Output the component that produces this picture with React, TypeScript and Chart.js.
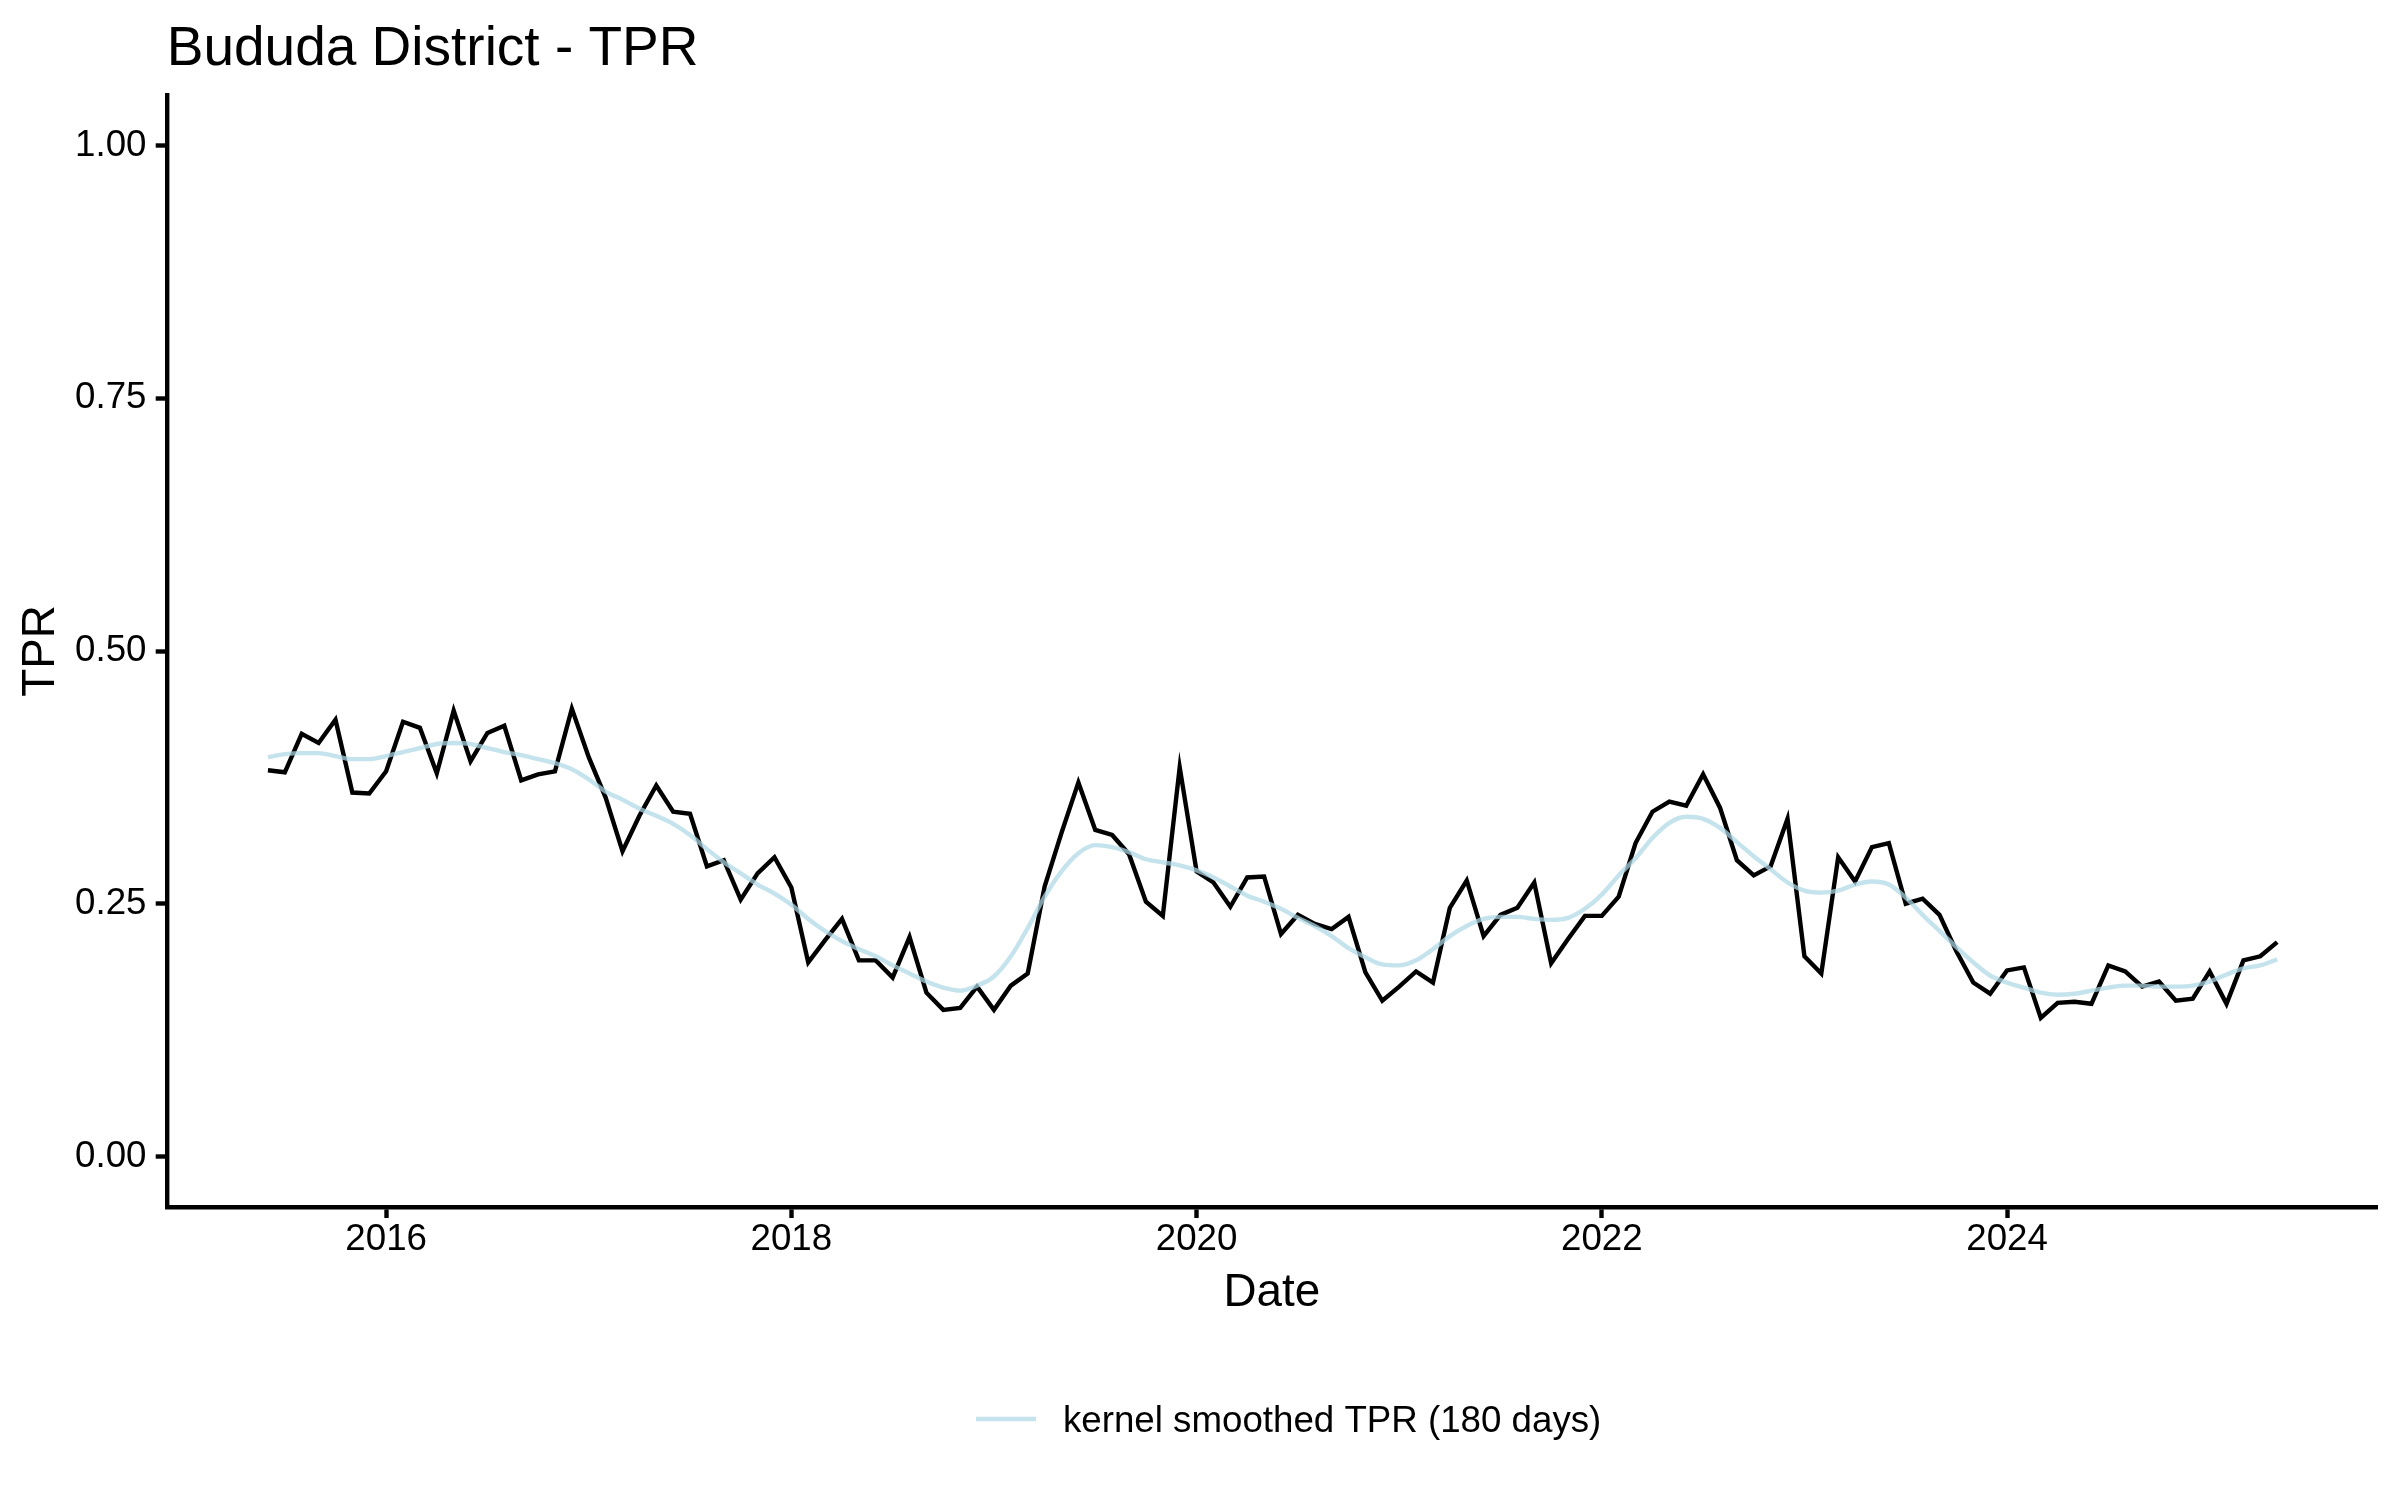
import React, { useEffect, useRef } from 'react';
import { Chart, registerables } from 'chart.js';

Chart.register(...registerables);

// ---- data -------------------------------------------------------------
const START_YEAR = 2015;
const START_MONTH = 6; // June 2015, monthly observations

const tpr = [
  0.382, 0.380, 0.418, 0.409, 0.432, 0.360, 0.359, 0.381, 0.430, 0.424,
  0.379, 0.441, 0.391, 0.419, 0.426, 0.372, 0.378, 0.381, 0.443, 0.395,
  0.355, 0.302, 0.337, 0.367, 0.341, 0.339, 0.287, 0.293, 0.254, 0.280,
  0.296, 0.266, 0.192, 0.214, 0.235, 0.194, 0.194, 0.177, 0.217, 0.162,
  0.145, 0.147, 0.168, 0.145, 0.169, 0.181, 0.267, 0.320, 0.370, 0.323,
  0.318, 0.299, 0.252, 0.238, 0.385, 0.282, 0.271, 0.247, 0.276, 0.277,
  0.220, 0.239, 0.230, 0.225, 0.237, 0.182, 0.154, 0.168, 0.183, 0.172,
  0.246, 0.273, 0.218, 0.239, 0.246, 0.271, 0.191, 0.215, 0.238, 0.238,
  0.257, 0.310, 0.341, 0.351, 0.347, 0.378, 0.345, 0.293, 0.278, 0.287,
  0.334, 0.198, 0.181, 0.296, 0.272, 0.306, 0.310, 0.250, 0.255, 0.239,
  0.203, 0.172, 0.161, 0.184, 0.187, 0.137, 0.152, 0.153, 0.151, 0.189,
  0.183, 0.168, 0.173, 0.154, 0.156, 0.183, 0.151, 0.194, 0.198, 0.212,
];

const smoothed = [
  0.395, 0.398, 0.399, 0.399, 0.396, 0.393, 0.393, 0.396, 0.400, 0.404,
  0.408, 0.409, 0.408, 0.404, 0.400, 0.397, 0.393, 0.389, 0.383, 0.373,
  0.361, 0.353, 0.344, 0.337, 0.329, 0.318, 0.304, 0.291, 0.280, 0.269,
  0.260, 0.249, 0.235, 0.223, 0.213, 0.205, 0.198, 0.189, 0.181, 0.173,
  0.167, 0.164, 0.169, 0.178, 0.198, 0.226, 0.257, 0.282, 0.300, 0.308,
  0.306, 0.301, 0.294, 0.291, 0.288, 0.283, 0.276, 0.267, 0.258, 0.252,
  0.245, 0.236, 0.228, 0.218, 0.206, 0.197, 0.190, 0.189, 0.194, 0.205,
  0.218, 0.228, 0.235, 0.237, 0.237, 0.235, 0.234, 0.236, 0.245, 0.259,
  0.278, 0.295, 0.315, 0.330, 0.336, 0.334, 0.325, 0.311, 0.297, 0.284,
  0.271, 0.263, 0.261, 0.263, 0.269, 0.272, 0.269, 0.256, 0.239, 0.223,
  0.207, 0.192, 0.179, 0.172, 0.167, 0.162, 0.160, 0.161, 0.164, 0.167,
  0.169, 0.169, 0.168, 0.168, 0.169, 0.173, 0.180, 0.186, 0.189, 0.195,
];

const months = tpr.map((_, i) => {
  const m = START_MONTH - 1 + i;
  return `${START_YEAR + Math.floor(m / 12)}-${String((m % 12) + 1).padStart(2, '0')}`;
});

const xTicks = [2016, 2018, 2020, 2022, 2024];
const yTicks = [0, 0.25, 0.5, 0.75, 1.0];

const TITLE = 'Bududa District - TPR';
const X_TITLE = 'Date';
const Y_TITLE = 'TPR';
const LEGEND_LABEL = 'kernel smoothed TPR (180 days)';

// ---- styles -----------------------------------------------------------
const FONT = '"Liberation Sans", Arial, Helvetica, sans-serif';
const SMOOTH_COLOR = 'rgba(173, 216, 230, 0.72)';
const LINE_W = 4.4;

const toYear = (label: string) => {
  const [y, m] = label.split('-').map(Number);
  return y + (m - 1) / 12;
};

const textPlugin = {
  id: 'textPlugin',
  afterDraw(chart: any) {
    const ctx = chart.ctx as CanvasRenderingContext2D;
    const area = chart.chartArea;
    ctx.save();
    ctx.fillStyle = '#000';
    ctx.textBaseline = 'alphabetic';
    ctx.textAlign = 'left';
    ctx.font = `55px ${FONT}`;
    ctx.fillText(TITLE, area.left, 65);

    // legend (bottom)
    const ly = 1419;
    const keyLeft = 976;
    const keyW = 60;
    ctx.strokeStyle = SMOOTH_COLOR;
    ctx.lineWidth = LINE_W;
    ctx.lineCap = 'butt';
    ctx.beginPath();
    ctx.moveTo(keyLeft, ly);
    ctx.lineTo(keyLeft + keyW, ly);
    ctx.stroke();
    ctx.font = `36.7px ${FONT}`;
    ctx.fillText(LEGEND_LABEL, keyLeft + keyW + 27, ly + 13);
    ctx.restore();
  },
};

export default function App() {
  const ref = useRef<HTMLCanvasElement | null>(null);

  useEffect(() => {
    document.body.style.margin = '0';
    const canvas = ref.current;
    if (!canvas) return;

    const chart = new Chart(canvas, {
      type: 'line',
      data: {
        datasets: [
          {
            label: LEGEND_LABEL,
            data: months.map((m, i) => ({ x: toYear(m), y: smoothed[i] })),
            borderColor: SMOOTH_COLOR,
            borderWidth: LINE_W,
            pointRadius: 0,
            tension: 0.4,
            cubicInterpolationMode: 'monotone',
            order: 0,
          },
          {
            label: 'TPR',
            data: months.map((m, i) => ({ x: toYear(m), y: tpr[i] })),
            borderColor: '#000',
            borderWidth: LINE_W,
            pointRadius: 0,
            tension: 0,
            borderJoinStyle: 'miter',
            order: 1,
          },
        ],
      },
      options: {
        responsive: false,
        maintainAspectRatio: false,
        animation: false,
        devicePixelRatio: 1,
        layout: { padding: { top: 95, right: 23, left: 0, bottom: 0 } },
        plugins: {
          legend: { display: false },
          tooltip: { enabled: false },
          title: { display: false },
        },
        scales: {
          x: {
            type: 'linear',
            min: 2014.917,
            max: 2025.826,
            afterBuildTicks: (axis: any) => {
              axis.ticks = xTicks.map((v) => ({ value: v }));
            },
            afterFit: (axis: any) => {
              axis.height = 293;
            },
            grid: {
              display: true,
              drawOnChartArea: false,
              drawTicks: true,
              tickLength: 11,
              tickColor: '#000',
              tickWidth: LINE_W,
              color: '#000',
            },
            border: { display: true, color: '#000', width: LINE_W },
            ticks: {
              autoSkip: false,
              maxRotation: 0,
              padding: 0,
              color: '#000',
              font: { family: FONT, size: 36.7 },
              callback: (v: any) => String(v),
            },
            title: {
              display: true,
              text: X_TITLE,
              color: '#000',
              font: { family: FONT, size: 45.8 },
              padding: { top: 0, bottom: 179 },
            },
          },
          y: {
            type: 'linear',
            min: -0.05,
            max: 1.05,
            afterBuildTicks: (axis: any) => {
              axis.ticks = yTicks.map((v) => ({ value: v }));
            },
            afterFit: (axis: any) => {
              axis.width = 166.7;
            },
            grid: {
              display: true,
              drawOnChartArea: false,
              drawTicks: true,
              tickLength: 11,
              tickColor: '#000',
              tickWidth: LINE_W,
              color: '#000',
            },
            border: { display: true, color: '#000', width: LINE_W },
            ticks: {
              padding: 9.2,
              color: '#000',
              font: { family: FONT, size: 36.7 },
              callback: (v: any) => Number(v).toFixed(2),
            },
            title: {
              display: true,
              text: Y_TITLE,
              color: '#000',
              font: { family: FONT, size: 45.8 },
              padding: { top: 13.5, bottom: 0 },
            },
          },
        },
      },
      plugins: [textPlugin],
    } as any);

    return () => chart.destroy();
  }, []);

  return (
    <div style={{ width: 2400, height: 1500, background: '#fff' }}>
      <canvas ref={ref} width={2400} height={1500} style={{ display: 'block', width: 2400, height: 1500 }} />
    </div>
  );
}
